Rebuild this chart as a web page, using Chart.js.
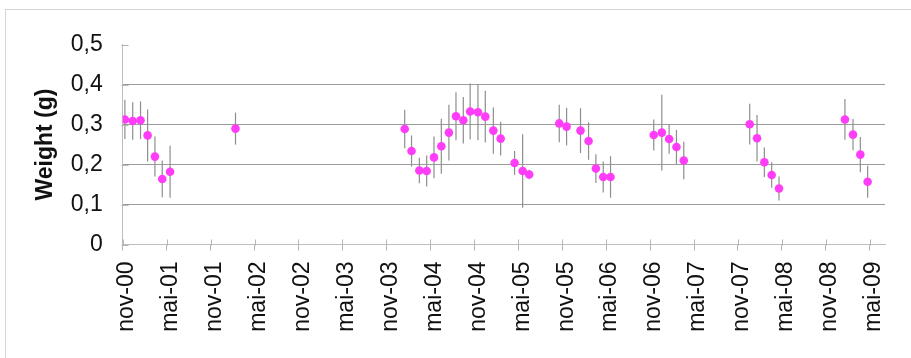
<!DOCTYPE html>
<html>
<head>
<meta charset="utf-8">
<script src="https://cdn.jsdelivr.net/npm/chart.js@4.4.1/dist/chart.umd.min.js"></script>
<style>
  html, body { margin: 0; padding: 0; background: #fff; }
  #wrap { position: relative; width: 911px; height: 358px; overflow: hidden; background: #fff; }
  #frame { position: absolute; left: 5px; top: 9px; width: 940px; height: 420px;
           border-top: 1px solid #d6d6d6; border-left: 1px solid #d6d6d6; }
  canvas { position: absolute; left: 0; top: 0; }
</style>
</head>
<body>
<div id="wrap">
  <div id="frame"></div>
  <canvas id="c" width="911" height="358"></canvas>
</div>
<script>
// Sampling dates (monthly field samples)
const sampleDates = [
  '2000-11-10', '2000-12-12', '2001-01-14', '2001-02-13', '2001-03-13', '2001-04-13', '2001-05-15',
  '2002-02-13',
  '2004-01-16', '2004-02-14', '2004-03-16', '2004-04-16', '2004-05-16', '2004-06-16', '2004-07-17',
  '2004-08-16', '2004-09-16', '2004-10-14', '2004-11-16', '2004-12-16', '2005-01-19', '2005-02-19',
  '2005-04-16', '2005-05-19', '2005-06-16',
  '2005-10-19', '2005-11-19', '2006-01-16', '2006-02-19', '2006-03-19', '2006-04-19', '2006-05-19',
  '2006-11-16', '2006-12-19', '2007-01-19', '2007-02-19', '2007-03-19',
  '2007-12-19', '2008-01-19', '2008-02-19', '2008-03-19', '2008-04-19',
  '2009-01-19', '2009-02-22', '2009-03-22', '2009-04-22'
];

// Mean weight (g)
const weights = [
  0.313, 0.309, 0.311, 0.273, 0.220, 0.164, 0.182,
  0.290,
  0.289, 0.234, 0.185, 0.184, 0.218, 0.246, 0.280,
  0.321, 0.311, 0.333, 0.331, 0.320, 0.285, 0.265,
  0.204, 0.184, 0.175,
  0.303, 0.295, 0.285, 0.259, 0.190, 0.169, 0.169,
  0.274, 0.280, 0.264, 0.244, 0.210,
  0.301, 0.266, 0.206, 0.174, 0.140,
  0.313, 0.275, 0.225, 0.157
];

// Standard deviation (g)
const deviations = [
  0.049, 0.047, 0.047, 0.065, 0.050, 0.046, 0.065,
  0.040,
  0.048, 0.039, 0.032, 0.039, 0.052, 0.069, 0.070,
  0.060, 0.058, 0.070, 0.070, 0.065, 0.058, 0.042,
  0.030, 0.092, 0.012,
  0.047, 0.047, 0.056, 0.047, 0.036, 0.039, 0.052,
  0.039, 0.095, 0.037, 0.043, 0.047,
  0.051, 0.058, 0.037, 0.032, 0.030,
  0.051, 0.039, 0.044, 0.040
];

const xTickLabels = [
  'nov-00', 'mai-01', 'nov-01', 'mai-02', 'nov-02', 'mai-03', 'nov-03', 'mai-04', 'nov-04',
  'mai-05', 'nov-05', 'mai-06', 'nov-06', 'mai-07', 'nov-07', 'mai-08', 'nov-08', 'mai-09'
];
const yTickLabels = ['0', '0,1', '0,2', '0,3', '0,4', '0,5'];

// Months elapsed since 1 Nov 2000
function monthIndex(dateStr) {
  const [y, m, d] = dateStr.split('-').map(Number);
  return (y - 2000) * 12 + (m - 11) + (d - 1) / 30;
}
const xs = sampleDates.map(monthIndex);
const points = xs.map((x, i) => ({ x: x, y: weights[i] }));

const AXIS_X0 = 122.7;   // left edge of plot
const AXIS_Y0 = 244.5;   // baseline of plot
const FONT = 'Liberation Sans, Arial, sans-serif';

// Vertical error bars plus inward tick marks on both axes
const errorBarsPlugin = {
  id: 'errorBars',
  beforeDatasetsDraw(chart) {
    const { ctx, scales: { x, y } } = chart;
    ctx.save();
    ctx.strokeStyle = '#8e8e8e';
    ctx.lineWidth = 1.2;
    xs.forEach((v, i) => {
      const px = x.getPixelForValue(v);
      ctx.beginPath();
      ctx.moveTo(px, y.getPixelForValue(weights[i] - deviations[i]));
      ctx.lineTo(px, y.getPixelForValue(weights[i] + deviations[i]));
      ctx.stroke();
    });
    // inner tick marks
    ctx.strokeStyle = '#b5b5b5';
    ctx.lineWidth = 1;
    const yb = Math.round(y.getPixelForValue(0)) + 0.5;
    x.ticks.forEach(t => {
      const px = Math.round(x.getPixelForValue(t.value)) + 0.5;
      ctx.beginPath();
      ctx.moveTo(px, yb - 6);
      ctx.lineTo(px, yb);
      ctx.stroke();
    });
    const xl = Math.round(x.getPixelForValue(0)) + 0.5;
    y.ticks.forEach(t => {
      const py = Math.round(y.getPixelForValue(t.value)) + 0.5;
      ctx.beginPath();
      ctx.moveTo(xl - 2, py);
      ctx.lineTo(xl + 5, py);
      ctx.stroke();
    });
    ctx.restore();
  }
};

new Chart(document.getElementById('c'), {
  type: 'scatter',
  data: {
    datasets: [{
      label: 'Weight',
      data: points,
      backgroundColor: '#ff3df8',
      borderColor: '#ff3df8',
      pointRadius: 4.3,
      pointHoverRadius: 4.3,
      borderWidth: 0
    }]
  },
  options: {
    responsive: false,
    animation: false,
    devicePixelRatio: 1,
    layout: { padding: { left: 30, top: 44.7, right: 26, bottom: 0 } },
    plugins: { legend: { display: false }, tooltip: { enabled: false } },
    scales: {
      x: {
        type: 'linear',
        min: 0,
        max: 104.07,
        afterBuildTicks: s => { s.ticks = xTickLabels.map((_, i) => ({ value: i * 6 })); },
        afterFit: s => { s.height = 358 - AXIS_Y0; },
        ticks: {
          autoSkip: false,
          maxRotation: 90,
          minRotation: 90,
          labelOffset: 4,
          padding: 11,
          color: '#111',
          font: { family: FONT, size: 23 },
          callback: (v, i) => xTickLabels[i]
        },
        grid: { drawOnChartArea: false, tickLength: 6, tickColor: '#b5b5b5' },
        border: { color: '#bdbdbd', width: 1 }
      },
      y: {
        min: 0,
        max: 0.5,
        afterBuildTicks: s => { s.ticks = yTickLabels.map((_, i) => ({ value: i / 10 })); },
        afterFit: s => { s.width = AXIS_X0 - 30; },
        ticks: {
          padding: 20,
          color: '#111',
          font: { family: FONT, size: 23 },
          callback: (v, i) => yTickLabels[i]
        },
        grid: {
          drawTicks: false,
          color: c => (c.index > 0 && c.index < 5) ? '#9c9c9c' : 'rgba(0,0,0,0)',
          lineWidth: 1
        },
        border: { color: '#bdbdbd', width: 1 },
        title: {
          display: true,
          text: 'Weight (g)',
          color: '#111',
          padding: { top: 2, bottom: 0 },
          font: { family: FONT, size: 23, weight: 'bold' }
        }
      }
    }
  },
  plugins: [errorBarsPlugin]
});
</script>
</body>
</html>
